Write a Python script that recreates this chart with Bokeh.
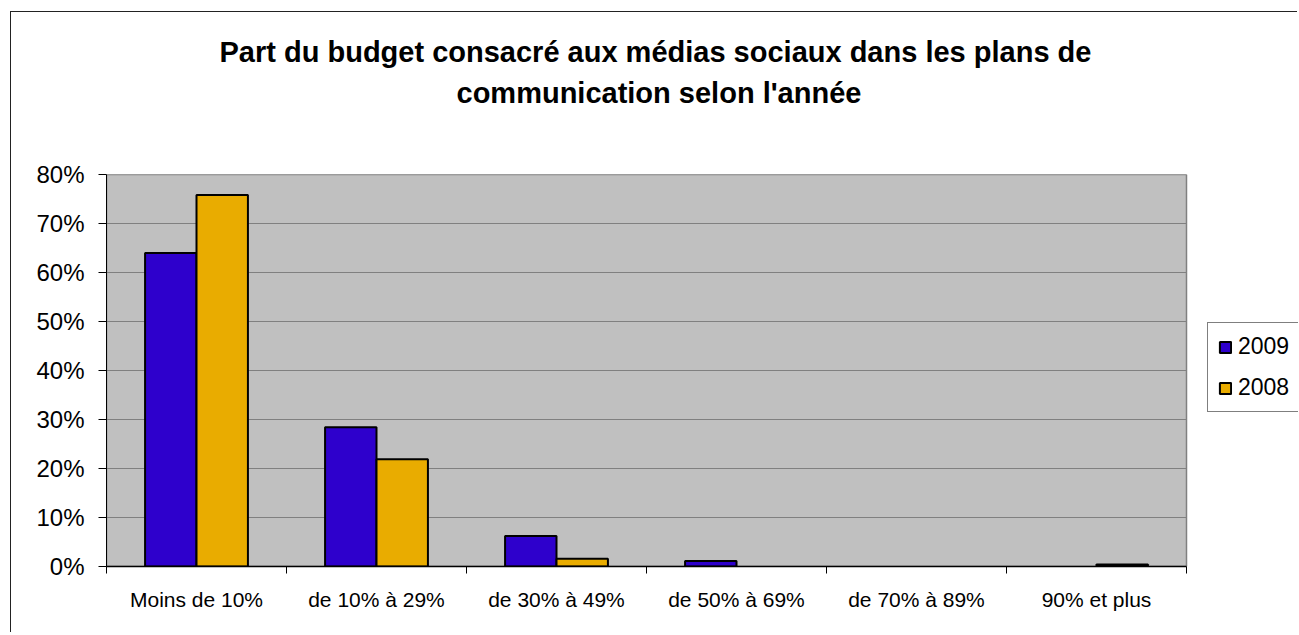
import numpy as np
from bokeh.plotting import figure
from bokeh.models import (Range1d, FixedTicker, Legend, LegendItem, PrintfTickFormatter,
                          ColumnDataSource, Title)
from bokeh.embed import file_html
from bokeh.resources import INLINE

# ---- data ----
categories = ["Moins de 10%", "de 10% à 29%", "de 30% à 49%", "de 50% à 69%",
              "de 70% à 89%", "90% et plus"]
series_names = ["2009", "2008"]
values_2009 = [64.0, 28.4, 6.2, 1.1, 0.0, 0.0]
values_2008 = [75.8, 21.9, 1.6, 0.0, 0.0, 0.4]
y_ticks = [0, 10, 20, 30, 40, 50, 60, 70, 80]
title_line1 = "Part du budget consacré aux médias sociaux dans les plans de"
title_line2 = "communication selon l'année"

colors = ["#2E00CC", "#E9AC00"]
FONT = "Liberation Sans"
BAR_W = 0.2857

# layout constants (pixels)
FIG_W, FIG_H = 1287, 621
LEFT, TOP, BOTTOM = 95, 162, 67
PLOT_W = 1080            # width of the grey plot area
FRAME_W = FIG_W - LEFT   # frame runs to the right edge so the legend can sit in it

n = len(categories)
y_max = y_ticks[-1]
centers = np.arange(n) + 0.5
boundaries = list(np.arange(n + 1).astype(float))
x_end = n * FRAME_W / PLOT_W

p = figure(width=FIG_W, height=FIG_H, x_range=Range1d(0, x_end), y_range=Range1d(0, y_max),
           output_backend="svg", toolbar_location=None, title=None,
           min_border_left=LEFT, min_border_right=0, min_border_top=TOP, min_border_bottom=BOTTOM,
           background_fill_color="white", border_fill_color="white")
p.margin = (11, 0, 0, 10)
p.styles = {"border-left": "1px solid #222", "border-top": "1px solid #222"}
p.outline_line_color = None

# title: spacer first (nearest to the plot), then line 2, then line 1
spacer = Title(text=" ", text_font_size="2px", standoff=58)
t2 = Title(text=title_line2, align="left", offset=350, text_font=FONT, text_font_size="29px",
           text_font_style="bold", text_color="black", standoff=7)
t1 = Title(text=title_line1, align="left", offset=113, text_font=FONT, text_font_size="29px",
           text_font_style="bold", text_color="black", standoff=7)
p.add_layout(spacer, "above")
p.add_layout(t2, "above")
p.add_layout(t1, "above")

# grey plot area and grid lines
p.quad(left=0, right=n, bottom=0, top=y_max, fill_color="#C0C0C0",
       line_color="#808080", line_width=1.5)
p.segment(x0=[0] * len(y_ticks), x1=[n] * len(y_ticks), y0=y_ticks, y1=y_ticks,
          line_color="#808080", line_width=1)
p.xgrid.visible = False
p.ygrid.visible = False

# bars
renderers = []
for k, (name, vals) in enumerate(zip(series_names, [values_2009, values_2008])):
    shift = (k - 0.5) * BAR_W
    xs = [c + shift for c, v in zip(centers, vals) if v > 0]
    tops = [v for v in vals if v > 0]
    src = ColumnDataSource(dict(x=xs, top=tops))
    r = p.vbar(x="x", top="top", width=BAR_W, bottom=0, source=src,
               fill_color=colors[k], line_color="black", line_width=2)
    renderers.append(r)

# y axis
ya = p.yaxis[0]
ya.ticker = FixedTicker(ticks=y_ticks)
ya.formatter = PrintfTickFormatter(format="%d%%")
ya.axis_line_color = "black"
ya.axis_line_width = 1
ya.major_tick_line_color = "black"
ya.major_tick_out = 8
ya.major_tick_in = 0
ya.minor_tick_line_color = None
ya.major_label_text_font = FONT
ya.major_label_text_font_size = "24px"
ya.major_label_text_color = "black"
ya.major_label_standoff = 14

# x axis
xa = p.xaxis[0]
xa.bounds = (0, n)
xa.ticker = FixedTicker(ticks=list(centers), minor_ticks=boundaries)
xa.major_label_overrides = {float(c): lab for c, lab in zip(centers, categories)}
xa.axis_line_color = "black"
xa.axis_line_width = 1.5
xa.major_tick_line_color = None
xa.major_tick_out = 7
xa.major_tick_in = 0
xa.minor_tick_line_color = "black"
xa.minor_tick_out = 7
xa.minor_tick_in = 0
xa.major_label_text_font = FONT
xa.major_label_text_font_size = "21px"
xa.major_label_text_color = "black"
xa.major_label_standoff = 14

# legend
legend = Legend(items=[LegendItem(label=s, renderers=[r]) for s, r in zip(series_names, renderers)],
                location=(PLOT_W + 21, 154))
legend.border_line_color = "black"
legend.border_line_width = 1
legend.background_fill_color = "white"
legend.background_fill_alpha = 1
legend.label_text_font = FONT
legend.label_text_font_size = "23px"
legend.label_text_color = "black"
legend.label_width = 70
legend.glyph_width = 14
legend.glyph_height = 14
legend.label_standoff = 6
legend.padding = 10
legend.spacing = 14
legend.margin = 0
p.add_layout(legend, "center")

open("out.html", "w").write(file_html(p, INLINE))
